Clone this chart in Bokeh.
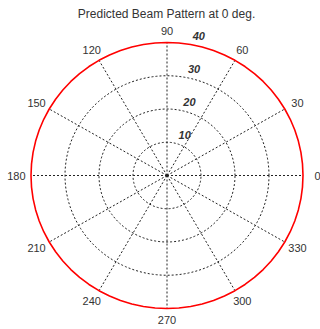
import math
from bokeh.plotting import figure
from bokeh.models import Range1d
from bokeh.core.properties import value
from bokeh.embed import file_html
from bokeh.resources import INLINE

title = "Predicted Beam Pattern at 0 deg."

# beam pattern samples (angle in degrees, radius)
angles_deg = [0, 5, 10, 15, 20, 25, 30, 35, 40, 45, 50, 55, 60, 65, 70, 75, 80, 85, 90,
              95, 100, 105, 110, 115, 120, 125, 130, 135, 140, 145, 150, 155, 160, 165, 170, 175, 180,
              185, 190, 195, 200, 205, 210, 215, 220, 225, 230, 235, 240, 245, 250, 255, 260, 265, 270,
              275, 280, 285, 290, 295, 300, 305, 310, 315, 320, 325, 330, 335, 340, 345, 350, 355, 360]
beam_r = [40, 40, 40, 40, 40, 40, 40, 40, 40, 40, 40, 40, 40, 40, 40, 40, 40, 40, 40,
          40, 40, 40, 40, 40, 40, 40, 40, 40, 40, 40, 40, 40, 40, 40, 40, 40, 40,
          40, 40, 40, 40, 40, 40, 40, 40, 40, 40, 40, 40, 40, 40, 40, 40, 40, 40,
          40, 40, 40, 40, 40, 40, 40, 40, 40, 40, 40, 40, 40, 40, 40, 40, 40, 40]

# polar grid
spoke_angles = [0, 30, 60, 90, 120, 150, 180, 210, 240, 270, 300, 330]
spoke_labels = ["0", "30", "60", "90", "120", "150", "180", "210", "240", "270", "300", "330"]
ring_radii = [10, 20, 30, 40]
ring_labels = ["10", "20", "30", "40"]
r_max = 40

W, H = 320, 329
cx, cy = 166.5, 175.0       # centre in pixels
sx, sy = 136.0 / r_max, 133.0 / r_max  # pixels per radial unit

p = figure(width=W, height=H, output_backend="svg", toolbar_location=None,
           min_border=0, outline_line_color=None)
p.x_range = Range1d(-cx / sx, (W - cx) / sx)
p.y_range = Range1d(-(H - cy) / sy, cy / sy)
p.axis.visible = False
p.grid.visible = False
p.background_fill_color = "white"
p.border_fill_color = "white"

def pol(r, deg):
    t = math.radians(deg)
    return r * math.cos(t), r * math.sin(t)

grid_color = "#222222"
fine = [i * 2 for i in range(181)]

# dashed rings
for r in ring_radii[:-1]:
    xs = [pol(r, a)[0] for a in fine]
    ys = [pol(r, a)[1] for a in fine]
    p.line(xs, ys, line_color=grid_color, line_dash="2 2", line_width=1)

# dashed spokes
for a in spoke_angles:
    x1, y1 = pol(r_max, a)
    p.line([0, x1], [0, y1], line_color=grid_color, line_dash="2 2", line_width=1)

# beam pattern
bx = [pol(r, a)[0] for r, a in zip(beam_r, angles_deg)]
by = [pol(r, a)[1] for r, a in zip(beam_r, angles_deg)]
p.line(bx, by, line_color="#ff0000", line_width=1.6)

# angle labels
lx = [44.3 * math.cos(math.radians(a)) for a in spoke_angles]
ly = [43.6 * math.sin(math.radians(a)) for a in spoke_angles]
p.text(lx, ly, text=spoke_labels, text_font=value("Liberation Sans"),
       text_font_size="11px", text_color="#333333",
       text_align="center", text_baseline="middle")

# ring labels
rx = [pol(r, 82)[0] + 3.8 for r in ring_radii]
ry = [pol(r, 82)[1] + 2.2 for r in ring_radii]
p.text(rx, ry, text=ring_labels, text_font=value("Liberation Sans"),
       text_font_size="11px", text_font_style="bold italic", text_color="#333333",
       text_align="center", text_baseline="middle")

# title
p.text([(166 - cx) / sx], [(cy - 13) / sy], text=[title],
       text_font=value("Liberation Sans"), text_font_size="12px",
       text_color="#333333", text_align="center", text_baseline="middle")

open("out.html", "w").write(file_html(p, INLINE))
